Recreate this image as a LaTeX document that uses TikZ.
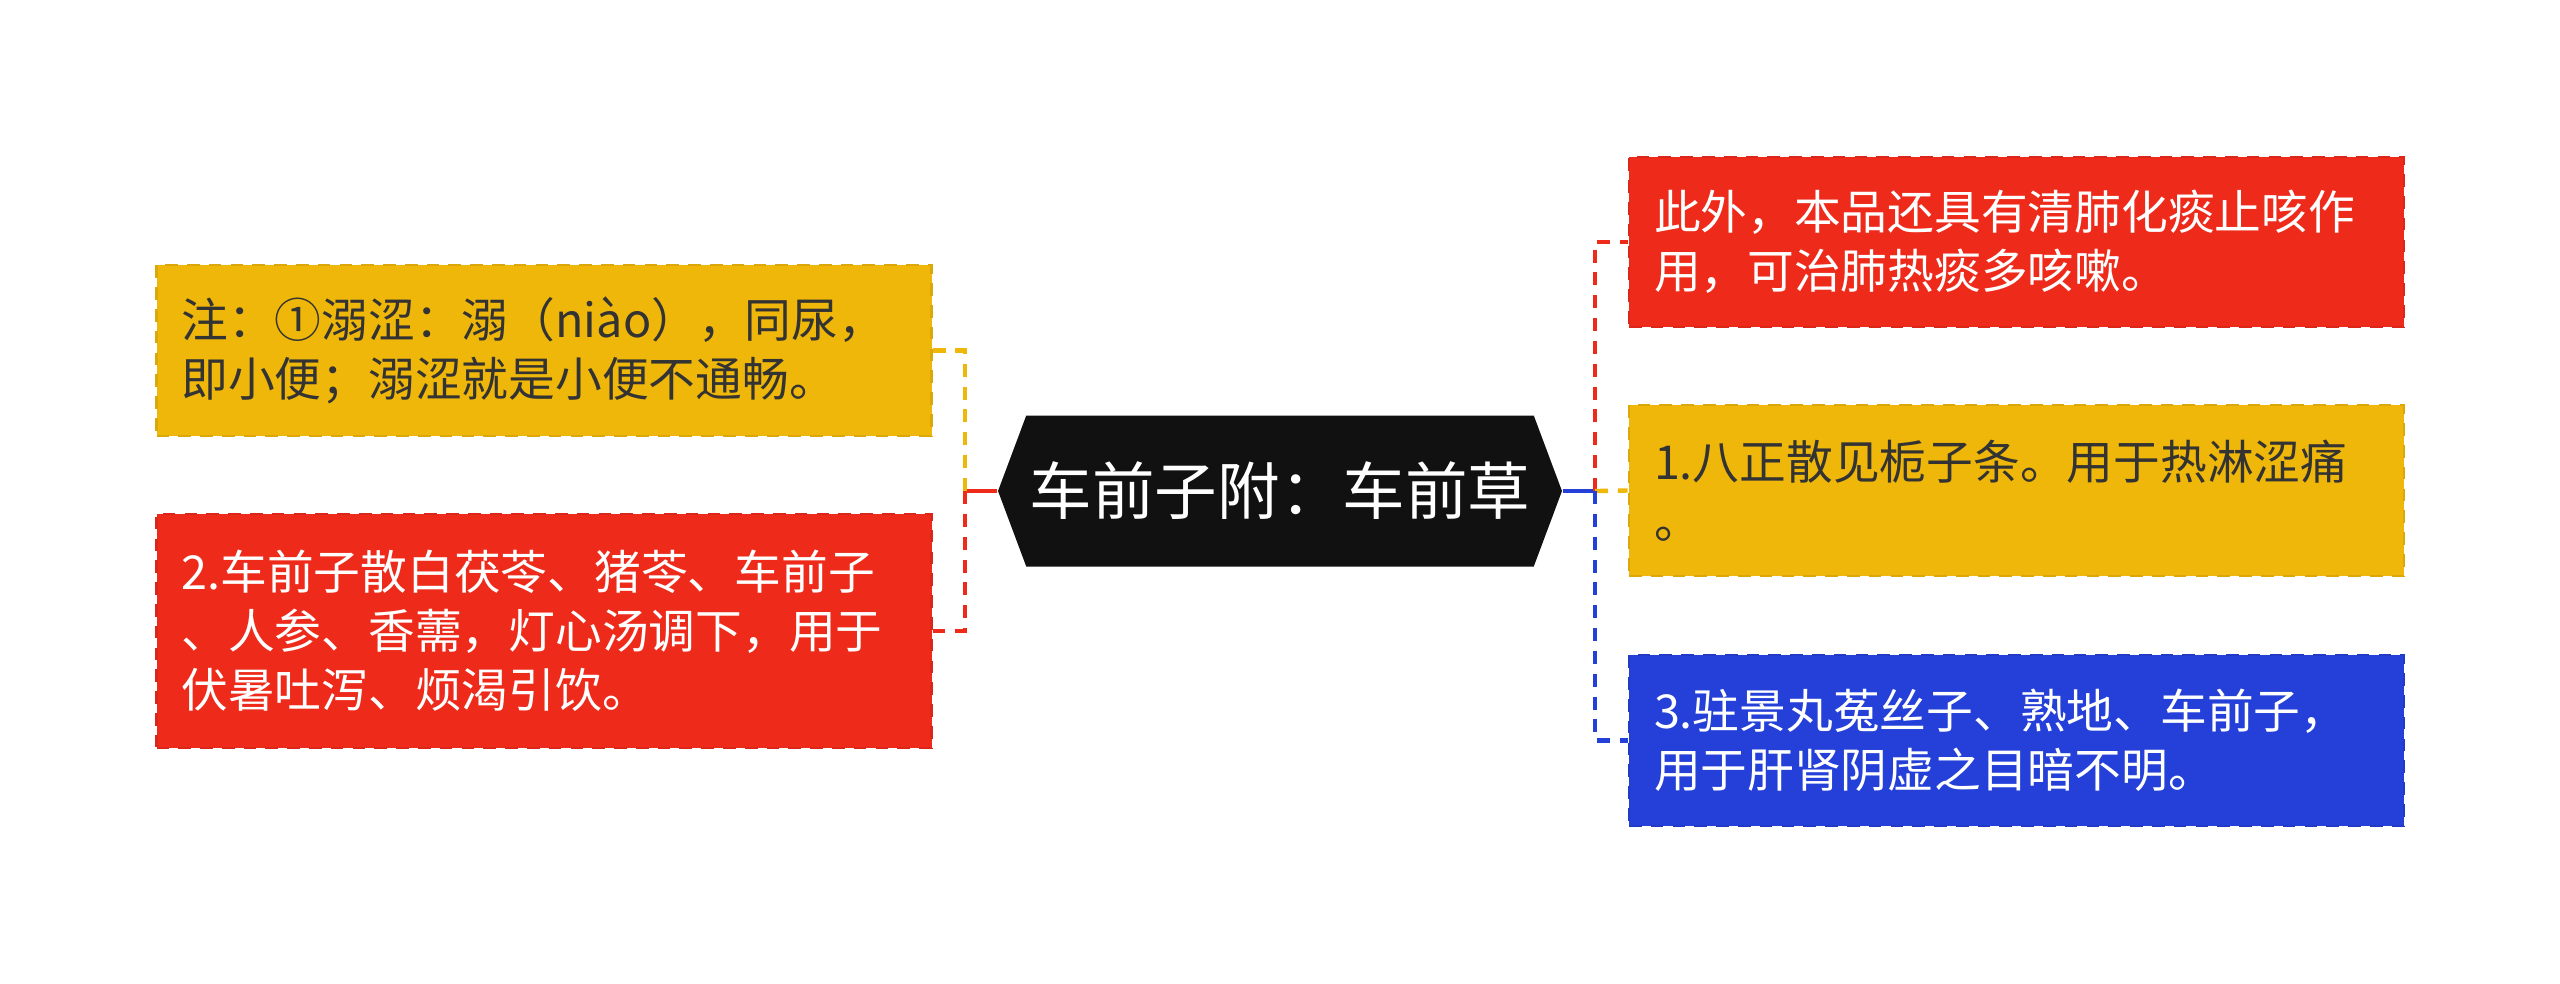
\documentclass[tikz,border=0pt]{standalone}
\usepackage{fontspec}
\setmainfont{Noto Sans CJK SC}
\usetikzlibrary{shapes.symbols}
\definecolor{hongse}{HTML}{EE2A1B}
\definecolor{huangse}{HTML}{EFB70A}
\definecolor{lanse}{HTML}{2440D8}
\definecolor{heise}{HTML}{111111}
\definecolor{zise}{HTML}{333333}

\begin{document}
\begin{tikzpicture}[x=1cm,y=1cm,
		leaf/.style={draw, dash pattern=on 3.6pt off 2.6pt, line width=0.8pt, text width=7.25cm, inner xsep=0.25cm, align=left, font=\fontsize{13.3}{16.8}\selectfont},
		link/.style={dash pattern=on 3.7pt off 2.8pt, line width=1.25pt},
		trunk/.style={line width=1.25pt}]
			\useasboundingbox (0,0) rectangle (25.6,-9.83);
			% centre
			\node[shape=signal, signal to=east and west, signal pointer angle=139, fill=heise, inner xsep=1pt, minimum height=1.51cm, text=white, font=\fontsize{17.8}{20}\selectfont] (root) at (12.80,-4.91) {车前子附：车前草};
			% left side
			\node[leaf, fill=huangse, draw=huangse!92!black, text=zise, minimum height=1.71cm] (zhu) at (5.44,-3.505) {注：①溺涩：溺（niào），同尿，\\即小便；溺涩就是小便不通畅。};
			\node[leaf, fill=hongse, draw=hongse!92!black, text=white, minimum height=2.34cm] (san) at (5.44,-6.31) {2.车前子散白茯苓、猪苓、车前子\\、人参、香薷，灯心汤调下，用于\\伏暑吐泻、烦渴引饮。};
			% right side
			\node[leaf, fill=hongse, draw=hongse!92!black, text=white, minimum height=1.70cm] (ciwai) at (20.165,-2.42) {此外，本品还具有清肺化痰止咳作\\用，可治肺热痰多咳嗽。};
			\node[leaf, fill=huangse, draw=huangse!92!black, text=zise, minimum height=1.71cm] (bazheng) at (20.165,-4.905) {1.八正散见栀子条。用于热淋涩痛\\。};
			\node[leaf, fill=lanse, draw=lanse!92!black, text=white, minimum height=1.71cm] (zhujing) at (20.165,-7.405) {3.驻景丸菟丝子、熟地、车前子，\\用于肝肾阴虚之目暗不明。};
			% connectors
			\coordinate (lj) at (9.65,-4.91);
			\coordinate (rj) at (15.95,-4.91);
			\draw[hongse, trunk] (root.west) -- (lj);
			\draw[huangse, link] (lj) |- (zhu.east);
			\draw[hongse, link] (lj) |- (san.east);
			\draw[lanse, trunk] (root.east) -- (rj);
			\draw[hongse, link] (rj) |- (ciwai.west);
			\draw[huangse, link] (rj) -- (bazheng.west);
			\draw[lanse, link] (rj) |- (zhujing.west);
		\end{tikzpicture}
\end{document}
